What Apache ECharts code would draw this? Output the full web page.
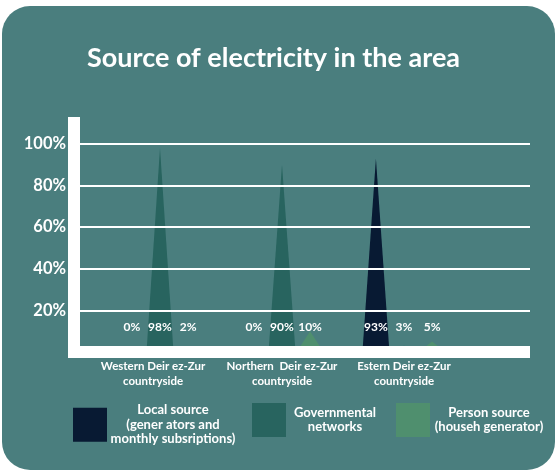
<!DOCTYPE html>
<html>
<head>
<meta charset="utf-8">
<script src="https://cdn.jsdelivr.net/npm/echarts@6/dist/echarts.min.js"></script>
<style>
  html, body { margin: 0; padding: 0; background: #ffffff; }
  #bg { position: absolute; left: 2px; top: 6px; width: 553px; height: 464px; background: #4a7e7e; border-radius: 28px; }
  #chart { position: absolute; left: 0; top: 0; width: 557px; height: 473px; }
</style>
</head>
<body>
<div id="bg"></div>
<div id="chart"></div>
<script>
const title = 'Source of electricity in the area';
const categories = ['Western Deir ez-Zur\ncountryside', 'Northern  Deir ez-Zur\ncountryside', 'Estern Deir ez-Zur\ncountryside'];
const seriesNames = ['Local source\n(gener ators and\nmonthly subsriptions)', 'Governmental\nnetworks', 'Person source\n(househ generator)'];
const localSource = [0, 0, 93];
const governmental = [98, 90, 3];
const personSource = [2, 10, 5];
const yTicks = [20, 40, 60, 80, 100];

const colors = ['#081a33', '#28645f', '#4f8f6e'];
const FONT = 'Lato, "Open Sans", sans-serif';

const chart = echarts.init(document.getElementById('chart'), null, { renderer: 'canvas' });

function mkSeries(name, data, color) {
  return {
    name: name,
    type: 'pictorialBar',
    xAxisIndex: 1,
    yAxisIndex: 1,
    symbol: 'triangle',
    symbolSize: [27, '100%'],
    barWidth: 27,
    barGap: '4%',
    z: 3,
    itemStyle: { color: color },
    label: {
      show: true,
      position: 'insideBottom',
      distance: 19,
      formatter: '{c}%',
      color: '#ffffff',
      fontFamily: FONT,
      fontWeight: 'bold',
      fontSize: 12
    },
    data: data
  };
}

function mkLegend(idx, left, textWidth) {
  const lines = seriesNames[idx].split('\n');
  return {
    data: [seriesNames[idx]],
    left: left,
    top: 403,
    itemWidth: 34,
    itemHeight: 34,
    icon: 'rect',
    selectedMode: false,
    padding: 0,
    formatter: function () { return lines.map(l => '{c|' + l + '}').join('\n'); },
    textStyle: {
      width: textWidth,
      color: '#ffffff',
      fontFamily: FONT,
      fontWeight: 'bold',
      fontSize: 13,
      lineHeight: 14.5,
      rich: { c: { align: 'center', color: '#ffffff', fontFamily: FONT, fontWeight: 'bold', fontSize: 13, lineHeight: 14.5 } }
    }
  };
}

const catRich = {
  color: '#ffffff', fontFamily: FONT, fontWeight: 'bold', fontSize: 11.5, lineHeight: 15
};

const option = {
  animation: false,
  color: colors,
  title: {
    text: title,
    left: 82,
    top: 40,
    textStyle: { color: '#ffffff', fontFamily: FONT, fontWeight: 'bold', fontSize: 27 }
  },
  legend: [mkLegend(0, 73, 122), mkLegend(1, 252, 88), mkLegend(2, 396, 108)],
  grid: [
    { left: 74, right: 27, top: 123, bottom: 121 },
    { left: 99, right: 92, top: 123, bottom: 121 }
  ],
  xAxis: [
    {
      gridIndex: 0, type: 'category', data: categories,
      z: 10,
      axisLine: { show: true, lineStyle: { color: '#ffffff', width: 12, cap: 'butt' } },
      axisTick: { show: false }, axisLabel: { show: false }, splitLine: { show: false }
    },
    {
      gridIndex: 1, type: 'category', data: categories,
      axisLine: { show: false }, axisTick: { show: false },
      axisLabel: {
        interval: 0,
        color: '#ffffff', fontFamily: FONT, fontWeight: 'bold', fontSize: 11.5,
        lineHeight: 15, margin: 7, align: 'center',
        formatter: function (v, i) {
          const tag = i === 0 ? 'w' : 'n';
          return v.split('\n').map(l => '{' + tag + '|' + l + '}').join('\n');
        },
        rich: {
          w: Object.assign({ padding: [0, 14, 0, 0] }, catRich),
          n: Object.assign({}, catRich)
        }
      }
    }
  ],
  yAxis: [
    {
      gridIndex: 0, type: 'value', min: 0, max: 110, interval: 20,
      z: 10,
      axisLine: { show: true, lineStyle: { color: '#ffffff', width: 12, cap: 'square' } },
      axisTick: { show: false },
      axisLabel: {
        margin: 8,
        color: '#ffffff', fontFamily: FONT, fontWeight: 'bold', fontSize: 16.5,
        formatter: function (v) { return yTicks.indexOf(v) >= 0 ? v + '%' : ''; }
      },
      splitLine: { show: true, showMinLine: false, showMaxLine: false, lineStyle: { color: '#ffffff', width: 2 } }
    },
    {
      gridIndex: 1, type: 'value', min: 0, max: 110, show: false, splitLine: { show: false }
    }
  ],
  series: [
    mkSeries(seriesNames[0], localSource, colors[0]),
    mkSeries(seriesNames[1], governmental, colors[1]),
    mkSeries(seriesNames[2], personSource, colors[2])
  ]
};
chart.setOption(option);
</script>
</body>
</html>
